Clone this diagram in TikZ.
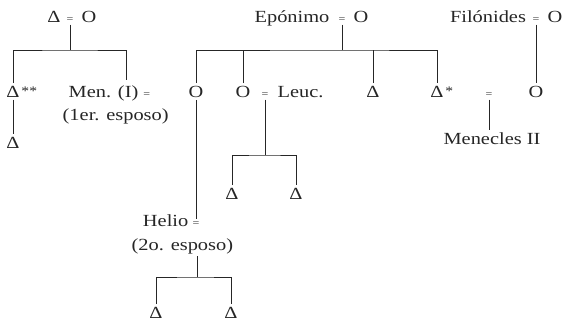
\documentclass[tikz,border=0pt]{standalone}
\usepackage{fontspec}
\setmainfont{Liberation Serif}[FakeStretch=1.2]
\newcommand{\smeq}{{\fontsize{10}{10}\selectfont=}}
\begin{document}
\begin{tikzpicture}[x=1pt,y=-1pt,
  txt/.style={font=\fontsize{17}{20}\selectfont, inner sep=2.5pt, text=black!85, anchor=base},
  eqs/.style={font=\fontsize{10}{10}\selectfont, inner sep=2.5pt, text=black!85, anchor=base},
  sup/.style={font=\fontsize{13}{13}\selectfont, inner sep=0pt, text=black!85, anchor=base west},
  ln/.style={draw=black!85, line width=0.9pt}]
\useasboundingbox (0,0) rectangle (564,324);
% row 1
\node[txt] (n1) at (54,22) {Δ};
\node[eqs] (e1) at (70,22) {=};
\node[txt] (n2) at (89,22) {O};
\node[txt] (ep) at (292,22) {Epónimo};
\node[eqs] (e2) at (342,22) {=};
\node[txt] (n3) at (361,22) {O};
\node[txt] (fi) at (488,22) {Filónides};
\node[eqs] (e3) at (536,22) {=};
\node[txt] (n4) at (555,22) {O};
% row 2
\node[txt] (n5) at (13,97) {Δ};
\node[sup] (n5s) at ([xshift=-1pt,yshift=2pt]n5.base east) {**};
\node[txt, anchor=base west] (n6) at (66,97) {Men. (I) \smeq};
\node[txt, anchor=base west] (n7) at (60,120) {(1er. esposo)};
\node[txt] (n8) at (196,97) {O};
\node[txt] (n9) at (243,97) {O};
\node[eqs] (e4) at (265,97) {=};
\node[txt, anchor=base west] (le) at (275,97) {Leuc.};
\node[txt] (n10) at (373,97) {Δ};
\node[txt] (n11) at (437,97) {Δ};
\node[sup] (n11s) at ([xshift=-1pt,yshift=2pt]n11.base east) {*};
\node[eqs] (e5) at (489,97) {=};
\node[txt] (n12) at (536,97) {O};
% row 3
\node[txt] (n13) at (13,148) {Δ};
\node[txt] (n14) at (492,144) {Menecles II};
\node[txt] (n15) at (232,199) {Δ};
\node[txt] (n16) at (296,199) {Δ};
\node[txt, anchor=base east] (he) at (191,226) {Helio};
\node[eqs] (e6) at (196,226) {=};
\node[txt, anchor=base west] (n18) at (129,250) {(2o. esposo)};
\node[txt] (n19) at (156,318) {Δ};
\node[txt] (n20) at (231,318) {Δ};
% junctions
\coordinate (jA) at (70,50);
\coordinate (mA) at (126,80);
\coordinate (jE) at (342,50);
\coordinate (jL) at (265,155);
\coordinate (jH) at (197,277);
% lines
\draw[ln] (e1.south) -- (jA);
\draw[ln] (n5.north) |- (jA) -| (mA);
\draw[ln] (n5.south) -- (n13.north);
\draw[ln] (e2.south) -- (jE);
\draw[ln] (n8.north) |- (jE) -| (n11.north);
\draw[ln] (n9.north) -- (n9.north |- jE);
\draw[ln] (n10.north) -- (n10.north |- jE);
\draw[ln] (n8.south) -- (e6.north);
\draw[ln] (e4.south) -- (jL);
\draw[ln] (n15.north) |- (jL) -| (n16.north);
\draw[ln] (jH |- n18.south) -- (jH);
\draw[ln] (n19.north) |- (jH) -| (n20.north);
\draw[ln] (e3.south) -- (n12.north);
\draw[ln] (e5.south) -- (e5.south |- n14.north);
\end{tikzpicture}
\end{document}
